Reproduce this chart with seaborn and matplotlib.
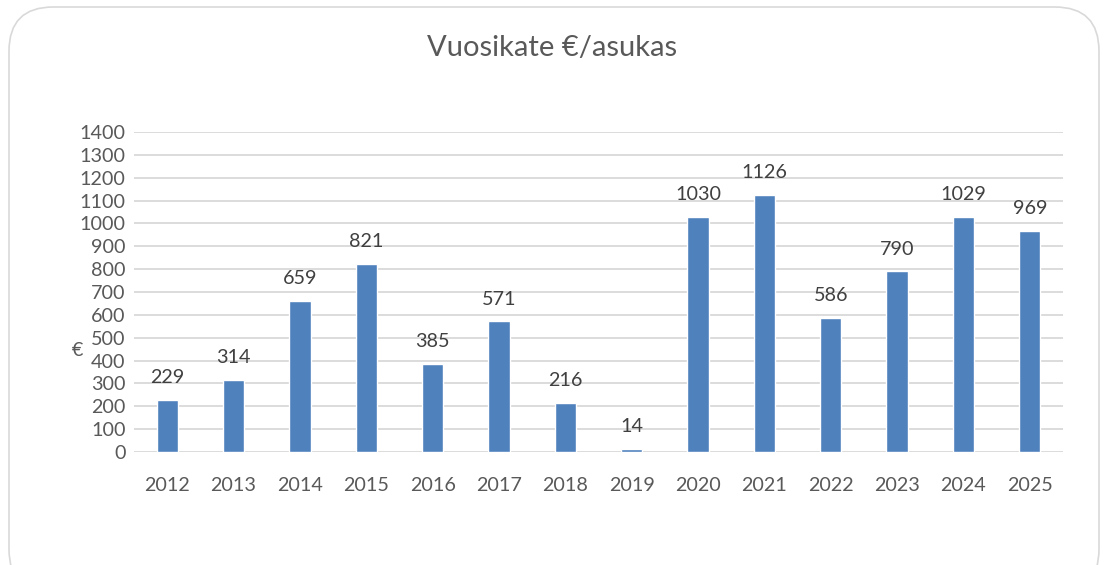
import numpy as np
import pandas as pd
import matplotlib
matplotlib.use("Agg")
import matplotlib.pyplot as plt
from matplotlib.patches import FancyBboxPatch
import seaborn as sns

# data
years = ["2012", "2013", "2014", "2015", "2016", "2017", "2018",
         "2019", "2020", "2021", "2022", "2023", "2024", "2025"]
values = [229, 314, 659, 821, 385, 571, 216, 14, 1030, 1126, 586, 790, 1029, 969]
yticks = list(range(0, 1500, 100))

title = "Vuosikate €/asukas"
ylabel = "€"

sns.set_theme(style="white")
plt.rcParams["font.family"] = ["Lato", "DejaVu Sans"]

text_col = "#595959"
bar_col = "#4F81BD"

df = pd.DataFrame({"vuosi": years, "arvo": values})

fig = plt.figure(figsize=(11.04, 5.65), dpi=100)
ax = fig.add_axes([134 / 1104, 1 - 452 / 565, (1063 - 134) / 1104, (452 - 132) / 565])

sns.barplot(data=df, x="vuosi", y="arvo", color=bar_col, saturation=1,
            width=0.32, ax=ax)

ax.set_ylim(0, 1400)
ax.set_yticks(yticks)
ax.set_xlim(-0.5, len(years) - 0.5)
ax.yaxis.grid(True, color="#D9D9D9", linewidth=1.3)
ax.set_axisbelow(True)
for s in ax.spines.values():
    s.set_visible(False)
ax.tick_params(axis="both", length=0, labelsize=14.2, labelcolor=text_col)
ax.tick_params(axis="x", pad=18)
ax.tick_params(axis="y", pad=6)
ax.set_xlabel("")
ax.set_ylabel("")

for i, v in enumerate(values):
    ax.annotate(str(v), (i, v), xytext=(0, 10), textcoords="offset points",
                ha="center", va="bottom", fontsize=14.2, color="#404040")

fig.text(78 / 1104, 1 - 350 / 565, ylabel, fontsize=14.2, color=text_col,
         ha="center", va="center")
fig.text(0.5, 1 - 48 / 565, title, fontsize=21, color=text_col,
         ha="center", va="center")

box = FancyBboxPatch((9 / 1104, -0.05), 1090 / 1104, 1.05 - 7 / 565,
                     boxstyle="round,pad=0,rounding_size=0.04",
                     transform=fig.transFigure, facecolor="none",
                     edgecolor="#D9D9D9", linewidth=1.2, zorder=0,
                     mutation_aspect=1104 / 565)
fig.patches.append(box)

fig.savefig("out.png", dpi=100)
